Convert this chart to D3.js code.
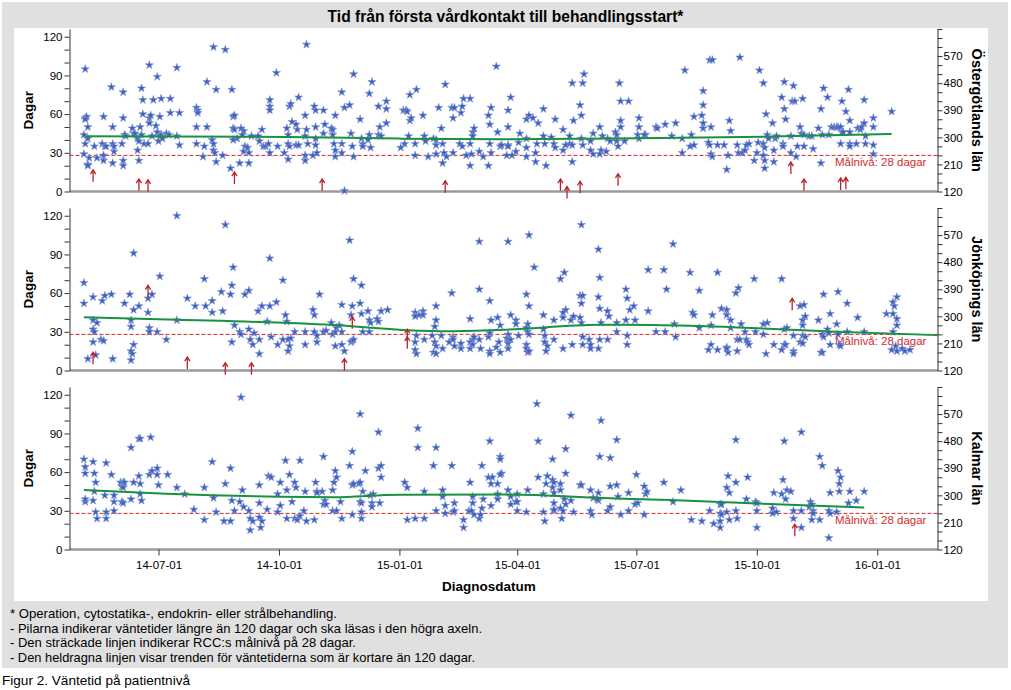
<!DOCTYPE html>
<html><head><meta charset="utf-8">
<script src="https://cdn.jsdelivr.net/npm/d3@7"></script>
<style>
html,body{margin:0;padding:0;background:#fff;}
svg{display:block;font-family:"Liberation Sans",Arial,sans-serif;}
</style></head>
<body>
<svg id="chart" width="1011" height="690"></svg>
<script>
// ---------- DATA ----------
const chartTitle = "Tid från första vårdkontakt till behandlingsstart*";
const xTitle = "Diagnosdatum";
const yTitle = "Dagar";
const regions = ["Östergötlands län", "Jönköpings län", "Kalmar län"];
const dayZero = "2014-04-24";          // diagnosis day offsets are counted from this date
const dayEnd = "2016-02-16";
const xTickDates = ["2014-07-01","2014-10-01","2015-01-01","2015-04-01","2015-07-01","2015-10-01","2016-01-01"];
const leftTicks = [0,10,20,30,40,50,60,70,80,90,100,110,120];
const leftLabels = [0,30,60,90,120];
const rightTicks = [120,150,180,210,240,270,300,330,360,390,420,450,480,510,540,570,600,630,660];
const rightLabels = [120,210,300,390,480,570];
const targetDays = 28;
const targetLabel = "Målnivå: 28 dagar";
const footnotes = [
  "* Operation, cytostatika-, endokrin- eller strålbehandling.",
  "- Pilarna indikerar väntetider längre än 120 dagar och ska läsas i den högra axeln.",
  "- Den sträckade linjen indikerar RCC:s målnivå på 28 dagar.",
  "- Den heldragna linjen visar trenden för väntetiderna som är kortare än 120 dagar."
];
const caption = "Figur 2. Väntetid på patientnivå";

// [day offset from dayZero, waiting days]
const ostPoints = [[12,95],[12,57],[13,58],[12,56],[14,50],[11,44],[12,37],[14,41],[11,29],[15,26],[14,21],[14,20],
[19,35],[21,26],[26,58],[25,37],[27,35],[26,28],[26,24],[28,35],[32,81],[33,50],[33,37],[34,31],[33,22],[34,35],
[41,77],[41,57],[42,44],[40,37],[41,24],[41,20],[43,43],[48,49],[49,45],[50,45],[52,41],[53,39],[52,32],[53,24],[54,50],[55,80],[56,71],[56,60],[55,44],[57,37],[61,98],[61,57],[62,59],[61,53],[63,43],[60,37],[64,71],
[67,89],[66,51],[67,46],[68,39],[69,58],[69,43],[70,44],[71,41],[70,72],[74,45],[76,44],[77,72],[77,61],[82,96],[82,43],[84,61],[84,36],
[97,65],[98,63],[98,61],[97,50],[97,37],[102,27],[103,35],[105,85],[105,50],[109,40],[110,37],[110,32],[111,30],[112,79],[112,23],[117,28],[110,112],[119,110],[123,18],[124,79],[125,58],[126,59],[125,49],[126,48],[128,41],[125,40],[130,22],[131,49],[133,47],[132,44],[134,35],[133,31],[136,34],[137,22],[139,43],[137,30],
[144,43],[145,39],[147,48],[148,35],[150,35],[153,71],[153,66],[153,63],[153,30],[152,37],[158,92],[159,35],[164,30],[166,49],[167,44],[167,37],[168,35],[167,25],[168,66],[169,68],[170,54],[173,52],[173,36],[175,73],[174,48],[175,36],
[180,59],[181,48],[180,43],[180,28],[180,24],[181,114],[182,37],[186,28],[187,66],[188,63],[188,50],[188,41],[188,36],[189,30],[195,52],[194,63],[194,45],
[200,49],[201,48],[201,44],[202,37],[203,32],[203,59],[203,27],[208,37],[208,77],[208,30],[210,65],[210,0.5],[214,67],[215,45],[216,35],[217,91],[217,27],
[222,56],[223,41],[224,37],[224,35],[228,40],[229,44],[229,76],[231,85],[230,34],[236,44],[236,66],[237,50],[238,43],[242,70],[242,64],[242,53],
[253,34],[255,63],[257,63],[258,62],[260,55],[259,43],[256,37],[260,75],[261,57],[264,37],[264,28],[265,79],[270,59],[271,43],[272,39],[274,27],
[278,41],[280,40],[280,36],[280,29],[282,65],[284,49],[285,22],[285,37],[286,30],[287,83],[288,27],[292,65],[293,57],[293,30],[294,65],[298,37],[299,61],[300,66],[301,72],[300,35],[303,28],[306,72],[306,37],[306,20],[308,46],[308,43],[307,29],[309,49],[313,31],[316,27],[320,59],[320,20],[321,52],[322,65],[321,37],[322,30],[326,97],[327,46],[329,35],[330,36],
[335,36],[335,35],[335,50],[335,63],[337,73],[334,28],[338,28],[341,31],[343,38],[344,45],[349,56],[349,41],[349,34],[349,27],[351,59],[354,57],[356,30],[356,23],[357,37],[358,53],[362,64],[362,43],[363,37],[364,20],[368,42],[370,37],[371,34],[371,56],[377,48],[377,32],[379,36],[382,43],[382,37],[384,36],[384,84],[385,55],[384,23],[390,67],[391,59],[391,41],[392,36],[392,84],[393,91],[398,39],[398,32],[400,45],[400,29],[405,50],[407,43],[406,32],[405,29],[410,31],[411,41],[413,39],[417,46],[418,39],[419,35],[418,44],[420,84],[421,70],[421,50],[421,55],[427,70],[424,39],[435,57],[435,50],[434,44],[435,41],[440,44],[439,44],[448,50],[449,49],[455,52],[460,43],[463,53],[468,30],[468,41],[470,94],[474,35],[475,44],[477,36],[477,58],[483,59],[484,67],[484,78],[484,53],[484,49],[488,38],[489,36],[490,29],[491,27],[489,102],[491,102],[490,50],[495,36],[500,36],[502,17],[503,28],[504,55],[505,47],[510,36],[511,30],[512,104],[514,30],[516,32],[517,36],[519,37],[523,24],[525,30],[527,94],[526,38],[530,37],[530,84],[530,28],[531,18],[531,24],[531,34],[532,60],[533,44],[534,41],[538,32],[538,23],[539,41],[540,43],[537,53],[544,73],[545,37],[545,35],[546,64],[546,85],[547,56],[551,43],[551,30],[552,70],[553,82],[554,70],[555,27],[556,35],[558,50],[559,45],[560,72],[561,44],[561,35],[565,43],[567,43],[568,33],[572,49],[574,64],[574,22],[575,44],[576,80],[579,73],[580,44],[582,50],[584,50],[586,50],[587,50],[589,50],[589,37],[590,70],[590,46],[591,46],[593,62],[595,79],[596,55],[596,46],[596,37],[596,35],[601,37],[602,49],[604,48],[605,50],[607,53],[607,71],[608,37],[608,43],[614,57],[614,50],[614,36],[614,29],[628,62]];

const jonPoints = [[11,68],[11,52],[14,9],[18,57],[18,39],[18,32],[19,30],[18,22],[21,37],[20,12],[25,54],[27,58],[32,59],[24,24],[26,23],[33,9],[42,52],[46,59],[47,39],[47,34],[47,15],[48,13],[47,8],[49,91],[49,47],[49,20],[53,50],[60,56],[60,45],[61,33],[61,30],[63,59],[67,30],[69,73],[74,24],[82,120],[82,39],[90,56],[96,50],[103,71],[104,50],[109,54],[109,45],[116,61],[117,46],[119,113],[123,59],[124,66],[125,80],[126,35],[124,22],[130,30],[131,28],[134,59],[137,62],[137,32],[138,24],[140,20],[141,29],[144,46],[145,24],[145,13],[147,50],[151,38],[153,50],[153,87],[154,26],[158,53],[159,20],[163,24],[163,70],[165,43],[166,38],[167,24],[168,19],[167,15],[169,25],[172,30],[180,30],[180,20],[186,47],[187,43],[187,30],[189,27],[189,22],[191,59],[194,30],[196,31],[200,37],[201,28],[203,30],[203,19],[204,33],[206,35],[208,30],[208,51],[208,20],[210,15],[214,101],[215,43],[215,22],[216,23],[217,24],[216,50],[217,71],[222,52],[223,66],[223,44],[224,30],[228,46],[229,39],[229,30],[230,37],[235,40],[236,38],[238,46],[243,47],[264,45],[264,42],[267,43],[264,22],[264,16],[265,13],[265,27],[270,46],[271,24],[270,43],[277,27],[278,14],[279,34],[280,39],[280,50],[279,22],[280,19],[280,13],[284,27],[285,17],[292,60],[290,22],[293,26],[294,19],[293,24],[299,21],[299,17],[306,40],[306,22],[306,17],[308,24],[308,20],[309,26],[313,63],[313,100],[313,24],[314,17],[320,26],[321,54],[322,39],[321,29],[321,15],[321,13],[326,18],[327,41],[328,22],[329,35],[329,14],
[335,100],[337,43],[341,39],[341,36],[335,28],[334,25],[335,24],[335,21],[335,17],[337,24],[343,27],[349,59],[351,105],[351,50],[350,36],[349,33],[350,30],[351,28],[349,20],[349,17],[350,14],[351,15],[355,80],[362,43],[362,32],[363,22],[363,27],[364,15],[365,19],[370,39],[370,24],[375,71],[378,76],[377,41],[379,47],[377,45],[377,17],[383,39],[384,20],[385,42],[390,58],[392,58],[391,52],[391,37],[390,41],[391,113],[392,26],[392,20],[397,24],[398,17],[398,20],[404,94],[405,72],[404,57],[405,48],[406,37],[404,17],[405,24],[411,24],[411,46],[412,42],[418,37],[418,30],[425,63],[426,56],[425,39],[426,27],[426,20],[428,47],[431,50],[432,39],[442,78],[442,46],[448,30],[454,78],[455,30],[456,63],[461,98],[462,36],[463,26],[474,76],[476,45],[477,43],[481,62],[481,33],[488,16],[490,35],[490,20],[491,43],[495,76],[495,16],[498,48],[502,47],[502,43],[502,18],[503,14],[502,17],[505,39],[505,33],[509,60],[511,64],[510,24],[512,24],[510,15],[513,36],[516,30],[517,24],[518,22],[519,20],[523,71],[524,30],[530,36],[530,28],[533,37],[532,13],[538,20],[544,71],[544,16],[546,32],[546,20],[547,20],[548,33],[553,27],[553,15],[553,13],[558,50],[558,22],[560,21],[560,39],[560,35],[560,27],[561,51],[562,42],[562,26],[572,39],[574,14],[575,14],[575,28],[576,59],[576,26],[579,32],[580,29],[581,44],[581,20],[586,36],[587,61],[587,28],[588,20],[589,19],[594,30],[594,52],[602,41],[607,30],[624,44],[629,53],[629,44],[630,50],[632,57],[632,40],[632,35],[629,30],[628,16],[631,19],[632,15],[636,17],[638,15],[642,16]];

const kalPoints = [[11,70],[12,64],[12,59],[12,37],[12,39],[18,68],[19,59],[20,52],[19,45],[18,38],[20,29],[21,24],[28,67],[27,42],[28,29],[28,24],[32,58],[34,42],[34,37],[34,30],[39,52],[40,49],[41,52],[42,52],[41,48],[40,37],[41,36],[47,79],[47,39],[49,52],[53,86],[54,86],[53,57],[54,51],[54,43],[55,38],[62,87],[61,58],[63,61],[67,63],[67,58],[68,50],[75,58],[82,48],[88,43],[95,31],[103,48],[103,23],[109,68],[110,40],[112,29],[118,22],[119,51],[123,22],[123,63],[124,38],[126,30],[131,118],[132,46],[130,37],[133,33],[137,30],[138,24],[140,22],[138,15],[145,50],[145,36],[145,25],[147,22],[146,17],[152,57],[154,56],[151,31],[159,43],[161,52],[161,34],[159,29],[165,69],[166,46],[166,24],[168,58],[170,37],[172,52],[173,48],[172,24],[174,23],[176,69],[176,26],[179,30],[180,45],[181,22],[187,23],[188,52],[189,45],[189,44],[193,45],[194,72],[195,38],[194,35],[196,35],[201,46],[202,52],[203,61],[204,56],[201,30],[204,30],[207,37],[208,24],[214,65],[216,76],[216,50],[217,51],[216,27],[221,51],[222,52],[222,37],[223,36],[223,29],[223,24],[222,105],[224,45],[226,61],[230,42],[231,36],[231,33],[232,43],[236,91],[236,63],[238,65],[238,56],[237,36],[256,52],[258,48],[258,23],[264,24],[266,94],[266,79],[271,45],[271,24],[278,65],[280,79],[280,30],[285,41],[285,46],[287,34],[287,28],[292,65],[293,29],[294,36],[294,30],[301,23],[301,17],[305,30],[306,52],[307,30],[308,36],[308,41],[309,27],[313,24],[314,27],[315,32],[315,65],[316,39],[320,56],[321,84],[322,51],[323,56],[322,34],[327,39],[327,51],[327,43],[329,72],[329,70],[330,59],[329,58],
[335,46],[337,41],[337,35],[341,37],[342,37],[342,43],[342,30],[350,46],[349,29],[357,113],[358,84],[358,56],[362,43],[362,29],[363,22],[364,51],[365,57],[369,70],[369,54],[369,48],[370,44],[370,52],[370,36],[370,30],[370,31],[375,51],[375,46],[375,32],[376,24],[377,30],[378,39],[379,35],[379,59],[379,78],[383,104],[383,38],[385,29],[390,50],[391,50],[398,46],[398,30],[399,27],[400,40],[404,44],[404,38],[403,39],[405,72],[406,100],[411,30],[413,33],[413,71],[413,49],[418,85],[418,50],[419,41],[421,27],[427,30],[427,44],[433,58],[432,35],[434,36],[439,49],[440,43],[441,45],[439,27],[454,52],[461,37],[467,46],[475,23],[483,22],[489,30],[492,20],[497,35],[498,35],[497,28],[497,22],[497,17],[498,27],[502,48],[503,57],[504,44],[502,29],[504,23],[509,85],[509,52],[509,30],[510,24],[517,39],[518,56],[524,37],[525,30],[525,17],[525,36],[537,32],[537,28],[538,44],[540,29],[545,54],[544,43],[546,84],[547,39],[548,46],[551,45],[553,24],[553,30],[559,91],[559,30],[559,17],[565,33],[566,37],[567,35],[567,23],[568,30],[568,28],[573,23],[573,72],[575,65],[580,9],[581,44],[580,30],[581,28],[586,29],[587,61],[588,45],[588,51],[589,56],[595,36],[596,45],[601,38],[607,45]];

// waits longer than 120 days (read on the right axis): [day offset, waiting days]
const ostArrows = [[18,192],[53,162],[60,159],[126,185],[193,162],[287,156],[375,162],[380,137],[390,154],[419,179],[551,218],[561,162],[589,165],[593,167]];
const jonArrows = [[18,181],[60,403],[90,165],[119,146],[139,146],[210,159],[216,299],[258,257],[258,232],[552,360]];
const kalArrows = [[554,204]];

// trend of waits shorter than 120 days: [day offset, days]
const ostTrend = [[11,42.9],[166,42.3],[252,41],[334,40.5],[434,41.3],[535,42.6],[628,44.7]];
const jonTrend = [[11,41.2],[82,39.4],[201,35.2],[258,31.3],[290,30.5],[332,31.6],[405,35.5],[446,35.2],[510,33.4],[586,30],[663,27.4]];
const kalTrend = [[11,46.1],[74,43.2],[161,40.9],[201,40.6],[252,42.5],[332,42.6],[408,39.9],[459,38.3],[535,35.2],[607,32.6]];

// ---------- DRAW ----------
const panels = [
  {name: regions[0], pts: ostPoints, arrows: ostArrows, trend: ostTrend},
  {name: regions[1], pts: jonPoints, arrows: jonArrows, trend: jonTrend},
  {name: regions[2], pts: kalPoints, arrows: kalArrows, trend: kalTrend}
];
const svg = d3.select("#chart");
const parse = d3.timeParse("%Y-%m-%d");
const d0 = parse(dayZero);
const toDate = off => d3.timeDay.offset(d0, Math.round(off));

svg.append("rect").attr("x",2).attr("y",2).attr("width",1006).attr("height",666).attr("fill","#e0e0e0");
svg.append("rect").attr("x",14).attr("y",28).attr("width",974).attr("height",573).attr("fill","#ffffff");

svg.append("text").attr("x",505.5).attr("y",22).attr("text-anchor","middle")
  .attr("font-size","15.6px").attr("font-weight","bold").text(chartTitle);

const x = d3.scaleTime().domain([d0, parse(dayEnd)]).range([69.5, 937.5]);
const panelTops = [29, 208, 387];
const panelH = 162.5;
const starSym = d3.symbol(d3.symbolStar, 21);

panels.forEach((p, i) => {
  const top = panelTops[i], bot = top + panelH;
  const y = d3.scaleLinear().domain([0,126]).range([bot, top]);
  const yR = d3.scaleLinear().domain([120,660]).range([bot, top]);
  const g = svg.append("g");

  // baseline
  g.append("line").attr("x1",x.range()[0]).attr("x2",x.range()[1]).attr("y1",y(0)).attr("y2",y(0))
    .attr("stroke","#9a9a9a").attr("stroke-width",2.5);

  // left axis
  const la = g.append("g").attr("transform",`translate(${x.range()[0]},0)`)
    .call(d3.axisLeft(y).tickValues(leftTicks).tickSize(5).tickSizeOuter(0)
      .tickFormat(d => leftLabels.includes(d) ? d : ""));
  la.selectAll("path,line").attr("stroke","#333");
  la.selectAll("text").attr("font-size","11.5px").attr("font-family","Liberation Sans, Arial").attr("fill","#000").attr("dx","1");

  // right axis
  const ra = g.append("g").attr("transform",`translate(${x.range()[1]},0)`)
    .call(d3.axisRight(yR).tickValues(rightTicks).tickSize(5).tickSizeOuter(0)
      .tickFormat(d => rightLabels.includes(d) ? d : ""));
  ra.selectAll("path,line").attr("stroke","#333");
  ra.selectAll("text").attr("font-size","11.5px").attr("font-family","Liberation Sans, Arial").attr("fill","#000").attr("dx","-2");

  // target line
  g.append("line").attr("x1",x.range()[0]).attr("x2",x.range()[1]).attr("y1",y(targetDays)).attr("y2",y(targetDays))
    .attr("stroke","#d42a2a").attr("stroke-width",1).attr("stroke-dasharray","4,2");
  g.append("text").attr("x",835).attr("y",y(targetDays)+10.5).attr("font-size","11.5px")
    .attr("fill","#d42a2a").text(targetLabel);

  // stars
  g.append("g").selectAll("path").data(p.pts).join("path")
    .attr("d", starSym)
    .attr("transform", d => `translate(${x(toDate(d[0]))},${y(d[1])})`)
    .attr("fill","#3f5fbd").attr("stroke","#7f95d4").attr("stroke-width",0.6);

  // trend
  g.append("path").datum(p.trend)
    .attr("d", d3.line().x(d => x(toDate(d[0]))).y(d => y(d[1])).curve(d3.curveMonotoneX))
    .attr("fill","none").attr("stroke","#18923f").attr("stroke-width",2);

  // arrows
  g.append("g").selectAll("path").data(p.arrows).join("path")
    .attr("d","M0,0V12M-2.6,4.2L0,0L2.6,4.2")
    .attr("transform", d => `translate(${x(toDate(d[0]))},${yR(d[1])})`)
    .attr("fill","none").attr("stroke","#b8232b").attr("stroke-width",1.3);

  // axis titles
  g.append("text").attr("transform",`translate(33,${(top+bot)/2}) rotate(-90)`).attr("text-anchor","middle")
    .attr("font-size","13.5px").attr("font-weight","bold").text(yTitle);
  g.append("text").attr("transform",`translate(972,${(top+bot)/2}) rotate(90)`).attr("text-anchor","middle")
    .attr("font-size","14.5px").attr("font-weight","bold").text(p.name);

  if (i === 2) {
    const xa = g.append("g").attr("transform",`translate(0,${y(0)})`)
      .call(d3.axisBottom(x).tickValues(xTickDates.map(parse)).tickSize(6).tickSizeOuter(0)
        .tickFormat(d3.timeFormat("%y-%m-%d")));
    xa.select(".domain").remove();
    xa.selectAll("line").attr("stroke","#333");
    xa.selectAll("text").attr("font-size","11.5px").attr("font-family","Liberation Sans, Arial").attr("fill","#000").attr("dy","0.95em");
  }
});

svg.append("text").attr("x",489).attr("y",591).attr("text-anchor","middle")
  .attr("font-size","13.5px").attr("font-weight","bold").text(xTitle);

const footLengths = [327, 472, 346, 465];
svg.append("g").selectAll("text").data(footnotes).join("text")
  .attr("x",10).attr("y",(d,i) => 618 + i*14.7).attr("font-size","12.6px")
  .attr("textLength",(d,i) => footLengths[i]).attr("lengthAdjust","spacingAndGlyphs").text(d => d);
svg.append("text").attr("x",2).attr("y",685).attr("font-size","12.6px")
  .attr("textLength",188).attr("lengthAdjust","spacingAndGlyphs").text(caption);
</script>
</body></html>
